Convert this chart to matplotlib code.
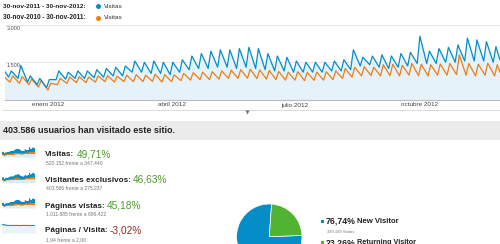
import numpy as np
import matplotlib
matplotlib.use("Agg")
import matplotlib.pyplot as plt
from matplotlib.patches import Rectangle

W, H = 500, 244
plt.rcParams['font.family'] = ['Liberation Sans', 'DejaVu Sans']

# ---------------- data ----------------
legend_labels = ["30-nov-2011 - 30-nov-2012:", "30-nov-2010 - 30-nov-2011:"]
series_name = "Visitas"
month_ticks = [32, 123, 214, 306]
month_labels = ["enero 2012", "abril 2012", "julio 2012", "octubre 2012"]
ytick_vals = [1500, 3000]
ytick_labels = ["1.500", "3.000"]

# weekly extremes (daily visits), current period
blue_start, blue_end = 1150, 1600
blue_peak = [1150, 1370, 950, 850, 800, 1150, 1100, 1150, 1150, 1200, 1250, 1300, 1350,
             1550, 1500, 1550, 1500, 1500, 1600, 1750, 1850, 1950, 2000, 2000, 2050, 2100,
             2050, 1850, 1750, 1700, 1550, 1500, 1500, 1500, 1550, 1600, 2000, 1700, 1750,
             1800, 1750, 1850, 1900, 2550, 1950, 2050, 2100, 2200, 2470, 2400, 2330, 2130]
blue_trough = [900, 850, 700, 600, 480, 800, 820, 850, 850, 880, 900, 950, 950,
               1100, 1100, 1050, 1050, 1000, 1100, 1200, 1250, 1250, 1300, 1300, 1250, 1300,
               1250, 1200, 1150, 1150, 1100, 1100, 1100, 1100, 1150, 1150, 1200, 1350, 1400,
               1300, 1250, 1300, 1350, 1450, 1450, 1450, 1500, 1500, 1550, 1550, 1550, 1500]
# previous period
orange_start, orange_end = 900, 1100
orange_peak = [950, 920, 820, 760, 650, 850, 900, 920, 900, 950, 960, 940, 980,
               1000, 980, 1020, 1000, 990, 1050, 1080, 1100, 1120, 1150, 1180, 1200, 1220,
               1190, 1170, 1130, 1100, 1120, 1090, 1100, 1120, 1150, 1250, 1300, 1320, 1300,
               1400, 1420, 1380, 1450, 1420, 1400, 1430, 1450, 1800, 1450, 1420, 1460, 1400]
orange_trough = [700, 650, 600, 500, 380, 600, 650, 680, 680, 700, 720, 700, 720,
                 720, 720, 730, 700, 720, 760, 780, 800, 800, 820, 850, 850, 860,
                 840, 820, 800, 780, 780, 760, 770, 780, 800, 850, 900, 950, 960,
                 950, 960, 950, 980, 960, 950, 980, 980, 1000, 980, 950, 980, 950]

header_text = "403.586 usuarios han visitado este sitio."
metric_names = ["Visitas:", "Visitantes exclusivos:", "Páginas vistas:", "Páginas / Visita:"]
metric_changes = ["49,71%", "46,63%", "45,18%", "-3,02%"]
metric_subs = ["520.152 frente a 347.440", "403.586 frente a 275.237",
               "1.011.885 frente a 696.422", "1,94 frente a 2,00"]
pv_blue = [2.3, 2.1, 1.95, 1.9, 1.95, 1.92, 1.9, 1.95, 1.93, 1.9, 1.92, 1.95]
pv_orange = [2.1, 2.05, 2.0, 2.0, 2.02, 2.0, 1.98, 2.0, 2.01, 2.0, 1.99, 2.0]

pie_labels = ["New Visitor", "Returning Visitor"]
pie_values = [76.74, 23.26]
pie_pct_labels = ["76,74%", "23,26%"]
pie_sub = "399.169 Visitas"

BLUE = "#058dc7"
ORANGE = "#ed7e17"
GREEN = "#50b432"
FILL = "#e6f2f9"


def build(start, end, peaks, troughs, t_off, p_off):
    days, vals = [0], [start]
    for i, (p, t) in enumerate(zip(peaks, troughs)):
        days += [7 * i + t_off, 7 * i + p_off]
        vals += [t, p]
    days.append(365)
    vals.append(end)
    return np.array(days), np.array(vals)


bd, bv = build(blue_start, blue_end, blue_peak, blue_trough, 3, 5)
od, ov = build(orange_start, orange_end, orange_peak, orange_trough, 4, 6)

# ---------------- figure ----------------
fig = plt.figure(figsize=(W / 100, H / 100), dpi=100)
renderer = fig.canvas.get_renderer()
bg = fig.add_axes([0, 0, 1, 1])
bg.set_xlim(0, W)
bg.set_ylim(H, 0)
bg.axis('off')


def txt(x, y, s, w=None, size=5, **kw):
    kw.setdefault('va', 'center')
    kw.setdefault('ha', 'left')
    t = bg.text(x, y, s, fontsize=size, **kw)
    if w:
        bb = t.get_window_extent(renderer)
        t.set_fontsize(size * w / bb.width)
    return t


def ax_px(x0, y0, x1, y1, **kw):
    return fig.add_axes([x0 / W, 1 - y1 / H, (x1 - x0) / W, (y1 - y0) / H], **kw)


# legend
for i, (lab, col) in enumerate(zip(legend_labels, [BLUE, ORANGE])):
    y = 6 + i * 11.5
    txt(3, y, lab, w=84, weight='bold', color='#222')
    bg.plot([97.5], [y], 'o', ms=3.6, color=col, mec='none')
    txt(104, y, series_name, w=19, color='#333')

# main chart
ax = ax_px(4.5, 25, 500, 99.5)
ax.set_facecolor('none')
ax.fill_between(bd, bv, 0, color=FILL, lw=0, zorder=1)
ax.plot(od, ov, color=ORANGE, lw=0.9, zorder=3)
ax.plot(bd, bv, color=BLUE, lw=0.9, zorder=4)
ax.set_xlim(0, 365)
ax.set_ylim(0, 3000)
for v in ytick_vals:
    ax.axhline(v, color='#e3e3e3', lw=0.6, zorder=0)
for s in ['top', 'right', 'left']:
    ax.spines[s].set_visible(False)
ax.spines['bottom'].set_color('#bbbbbb')
ax.spines['bottom'].set_linewidth(0.8)
ax.set_xticks([])
ax.set_yticks([])

txt(7, 28.5, ytick_labels[1], w=14, color='#555')
txt(7, 65.5, ytick_labels[0], w=14, color='#555')
for d, lab in zip(month_ticks, month_labels):
    xp = 4.5 + d * (495.5 / 365)
    txt(xp, 105, lab, size=4.6, ha='center', color='#444')

# scroll line
bg.plot([3, 500], [110, 110], color='#d5d5d5', lw=0.6)
bg.plot([247], [112], marker='v', ms=3, color='#777', mec='none')

# header band
bg.add_patch(Rectangle((0, 121), W, 19, color='#ebebeb', lw=0))
txt(3, 130.5, header_text, w=174, weight='bold', color='#222')

# metrics
row_y = [155, 180.5, 206, 231]
sub_y = [163.3, 188.3, 215, 239.5]
name_fs = None
sub_fs = None
for k in range(4):
    if name_fs is None:
        t = txt(45, row_y[k], metric_names[k], w=29.5, size=6, weight='bold', color='#222')
        name_fs = t.get_fontsize()
    else:
        t = txt(45, row_y[k], metric_names[k], size=name_fs, weight='bold', color='#222')
    bb = t.get_window_extent(renderer)
    x_end = bb.x1
    col = '#4d9a2c' if not metric_changes[k].startswith('-') else '#8e2a1c'
    txt(x_end + 2.2, row_y[k] - 0.5, metric_changes[k], size=7.3, color=col)
    if sub_fs is None:
        s = txt(45.7, sub_y[k], metric_subs[k], w=57, size=3.5, color='#777')
        sub_fs = s.get_fontsize()
    else:
        txt(45.7, sub_y[k], metric_subs[k], size=sub_fs, color='#777')

# sparklines
for k in range(4):
    yc = row_y[k]
    sa = ax_px(2, yc - 8, 35, yc + 2)
    sa.set_facecolor('none')
    sa.axis('off')
    if k < 3:
        sa.fill_between(bd, bv, 0, color='#dcecf6', lw=0)
        sa.plot(od, ov, color=ORANGE, lw=0.6)
        sa.plot(bd, bv, color=BLUE, lw=0.6)
        sa.set_xlim(0, 365)
        sa.set_ylim(0, 2700)
    else:
        xs = np.arange(len(pv_blue))
        sa.fill_between(xs, pv_blue, 0, color='#e9f3f9', lw=0)
        sa.plot(xs, pv_orange, color=ORANGE, lw=0.6)
        sa.plot(xs, pv_blue, color=BLUE, lw=0.6)
        sa.set_xlim(0, len(pv_blue) - 1)
        sa.set_ylim(0, 2.6)

# pie
cx, cy, r = 269.3, 236.7, 32.7
pa = ax_px(cx - r, cy - r, cx + r, cy + r)
pa.pie(pie_values, colors=[BLUE, GREEN], startangle=86, counterclock=True,
       radius=1, wedgeprops=dict(edgecolor='white', linewidth=0.5))
pa.set_xlim(-1, 1)
pa.set_ylim(-1, 1)
pa.set_aspect('auto')
pa.axis('off')

# pie legend
bg.add_patch(Rectangle((320.7, 219.7), 3.4, 3.4, color=BLUE, lw=0))
t = txt(326, 221.3, pie_pct_labels[0], w=29.5, weight='bold', color='#222')
txt(357.3, 221.8, pie_labels[0], w=42.5, weight='bold', color='#222')
txt(326.7, 232, pie_sub, w=28.5, color='#777')
bg.add_patch(Rectangle((320.7, 241.0), 3.4, 3.4, color=GREEN, lw=0))
txt(326, 242.6, pie_pct_labels[1], size=t.get_fontsize(), weight='bold', color='#222')
txt(357.3, 243.0, pie_labels[1], size=5.2, weight='bold', color='#222')

fig.savefig("out.png", dpi=100)
